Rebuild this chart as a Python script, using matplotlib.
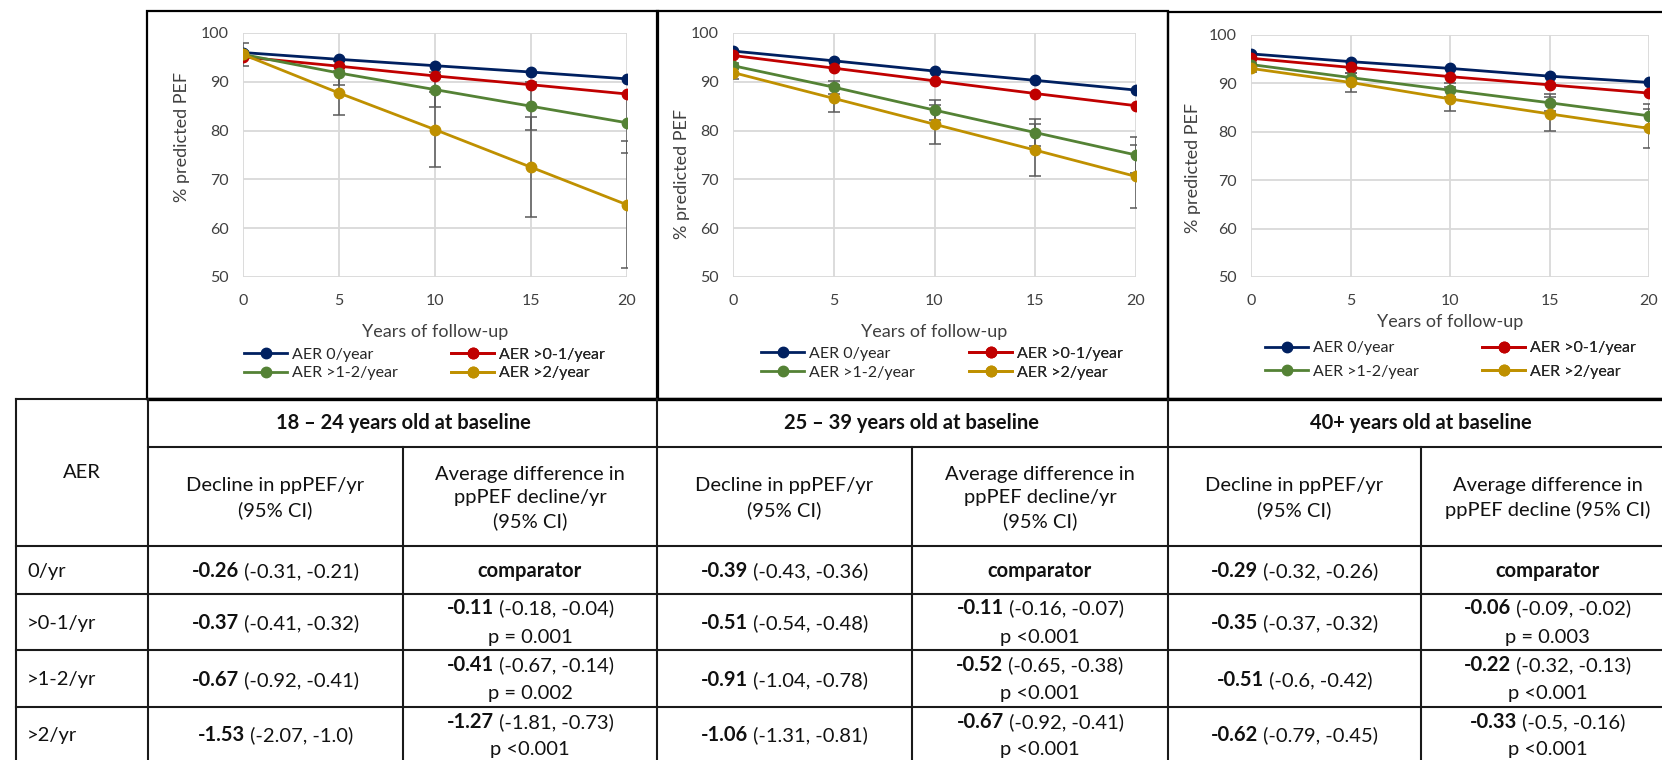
import matplotlib
matplotlib.use("Agg")
import matplotlib.pyplot as plt
from matplotlib.patches import Rectangle
from matplotlib.offsetbox import TextArea, HPacker, AnnotationBbox

plt.rcParams["font.family"] = ["Lato", "DejaVu Sans"]

# ---- chart data ----
years = [0, 5, 10, 15, 20]
series_labels = ["AER 0/year", "AER >0-1/year", "AER >1-2/year", "AER >2/year"]
series_colors = ["#002060", "#C00000", "#548235", "#BF9000"]

pef_18_24 = [
    [96.0, 94.6, 93.3, 92.0, 90.6],
    [95.1, 93.2, 91.2, 89.4, 87.5],
    [95.6, 91.8, 88.4, 85.0, 81.6],
    [95.6, 87.7, 80.2, 72.5, 64.8],
]
err_18_24 = [None, None, [0.8, 2.5, 3.6, 4.9, 6.1], [2.4, 4.6, 7.7, 10.3, 13.0]]

pef_25_39 = [
    [96.3, 94.3, 92.2, 90.3, 88.3],
    [95.4, 92.8, 90.2, 87.6, 85.1],
    [93.3, 88.9, 84.2, 79.6, 75.0],
    [91.9, 86.6, 81.3, 76.0, 70.6],
]
err_25_39 = [None, None, [0.6, 1.3, 2.1, 2.7, 3.6], [1.3, 2.7, 4.0, 5.3, 6.4]]

pef_40 = [
    [96.1, 94.5, 93.1, 91.5, 90.2],
    [95.2, 93.3, 91.4, 89.7, 88.0],
    [93.9, 91.2, 88.6, 86.0, 83.3],
    [93.1, 90.2, 86.8, 83.7, 80.7],
]
err_40 = [None, None, [0.4, 0.9, 1.4, 1.8, 2.4], [0.7, 1.9, 2.4, 3.5, 4.1]]

# ---- table data ----
aer_rows = ["0/yr", ">0-1/yr", ">1-2/yr", ">2/yr"]
groups = ["18 – 24 years old at baseline", "25 – 39 years old at baseline",
          "40+ years old at baseline"]
decline_est = [["-0.26", "-0.37", "-0.67", "-1.53"],
               ["-0.39", "-0.51", "-0.91", "-1.06"],
               ["-0.29", "-0.35", "-0.51", "-0.62"]]
decline_ci = [["(-0.31, -0.21)", "(-0.41, -0.32)", "(-0.92, -0.41)", "(-2.07, -1.0)"],
              ["(-0.43, -0.36)", "(-0.54, -0.48)", "(-1.04, -0.78)", "(-1.31, -0.81)"],
              ["(-0.32, -0.26)", "(-0.37, -0.32)", "(-0.6, -0.42)", "(-0.79, -0.45)"]]
diff_est = [[None, "-0.11", "-0.41", "-1.27"],
            [None, "-0.11", "-0.52", "-0.67"],
            [None, "-0.06", "-0.22", "-0.33"]]
diff_ci = [[None, "(-0.18, -0.04)", "(-0.67, -0.14)", "(-1.81, -0.73)"],
           [None, "(-0.16, -0.07)", "(-0.65, -0.38)", "(-0.92, -0.41)"],
           [None, "(-0.09, -0.02)", "(-0.32, -0.13)", "(-0.5, -0.16)"]]
diff_p = [[None, "p = 0.001", "p = 0.002", "p <0.001"],
          [None, "p <0.001", "p <0.001", "p <0.001"],
          [None, "p = 0.003", "p <0.001", "p <0.001"]]
sub_head_1 = "Decline in ppPEF/yr\n(95% CI)"
sub_head_2 = ["Average difference in\nppPEF decline/yr\n(95% CI)",
              "Average difference in\nppPEF decline/yr\n(95% CI)",
              "Average difference in\nppPEF decline (95% CI)"]

W, H = 1662, 760
fig = plt.figure(figsize=(W / 100, H / 100), dpi=100)

bg = fig.add_axes([0, 0, 1, 1], zorder=0)
bg.set_xlim(0, W)
bg.set_ylim(H, 0)
bg.axis("off")


def px_axes(l, t, r, b):
    return fig.add_axes([l / W, 1 - b / H, (r - l) / W, (b - t) / H], zorder=2)


panels = [
    # data, errors, plot box, ylabel x/y, xlabel y, legend cols x, legend y, row gap
    (pef_18_24, err_18_24, (243, 33, 627, 277), 182, 137, 332, (244, 451), 364, 0.25),
    (pef_25_39, err_25_39, (733, 33, 1136, 277), 682, 174, 332, (761, 969), 363, 0.3),
    (pef_40, err_40, (1251, 35, 1649, 277), 1193, 168, 322, (1265, 1482), 360, 0.6),
]

for data, errs, box, ylx, yly, xly, legx, legy, lsp in panels:
    l, t, r, b = box
    ax = px_axes(l, t, r, b)
    ax.set_facecolor("none")
    handles = []
    for vals, err, col, lab in zip(data, errs, series_colors, series_labels):
        if err is not None:
            ax.errorbar(years, vals, yerr=err, fmt="none", ecolor="#595959",
                        elinewidth=1.1, capsize=4, capthick=1.1, zorder=2)
        h, = ax.plot(years, vals, color=col, lw=2, marker="o", ms=7.5,
                     label=lab, zorder=3)
        handles.append(h)
    ax.set_xlim(0, 20)
    ax.set_ylim(50, 100)
    ax.set_xticks(years)
    ax.set_yticks(range(50, 101, 10))
    ax.grid(True, color="#d9d9d9", lw=1.3)
    ax.set_axisbelow(True)
    for s in ax.spines.values():
        s.set_visible(False)
    ax.tick_params(length=0, labelsize=11.5, colors="#404040")
    ax.tick_params(axis="x", pad=12)
    ax.tick_params(axis="y", pad=10)
    ax.set_xlabel("Years of follow-up", fontsize=13, color="#404040")
    ax.xaxis.label.set_va("center")
    ax.xaxis.set_label_coords(0.5, (b - xly) / (b - t))
    ax.set_ylabel("% predicted PEF", fontsize=13, color="#404040")
    ax.yaxis.label.set_va("center")
    ax.yaxis.set_label_coords((ylx - l) / (r - l), (b - yly) / (b - t))

    # two legend columns placed separately
    for k, cx in enumerate(legx):
        hs = [handles[k], handles[k + 2]]
        leg = ax.legend(hs, [h.get_label() for h in hs], loc="center left",
                        bbox_to_anchor=(cx / W, 1 - legy / H),
                        bbox_transform=fig.transFigure, frameon=False,
                        fontsize=11.5, handlelength=2.7, handletextpad=0.3,
                        borderpad=0, borderaxespad=0, labelspacing=lsp,
                        numpoints=1, labelcolor="#262626")
        ax.add_artist(leg)

# panel frames
lk = dict(fill=False, ec="black", lw=1.6, zorder=1)
bg.add_patch(Rectangle((147, 11), 511, 388, **lk))
bg.add_patch(Rectangle((657, 11), 511, 388, **lk))
bg.add_patch(Rectangle((1168, 12), 520, 387, **lk))

# ---- table ----
tl = dict(color="#1a1a1a", lw=1.5, zorder=1)
row_y = [399, 447, 546, 594, 650, 707]
bg.plot([16, W], [399, 399], **tl)
bg.plot([148, W], [399, 399], color="black", lw=2.4, zorder=1)
bg.plot([148, W], [447, 447], **tl)
for y in row_y[2:]:
    bg.plot([16, W], [y, y], **tl)
for x in [16, 148, 657, 1168]:
    bg.plot([x, x], [399, H], **tl)
for x in [403, 912, 1421]:
    bg.plot([x, x], [447, H], **tl)

fs = 14.5
tc = "#111111"
bg.text(82, 473, "AER", ha="center", va="center", fontsize=fs, color=tc)
for i, lab in enumerate(aer_rows):
    bg.text(27, [571, 623, 680, 735][i], lab, ha="left", va="center",
            fontsize=fs, color=tc)

group_x = [(148, 403, 657), (657, 912, 1168), (1168, 1421, 1674)]


def mixed(x, y, bold, rest):
    box = HPacker(children=[
        TextArea(bold, textprops=dict(fontsize=fs, fontweight="bold", color=tc)),
        TextArea(" " + rest, textprops=dict(fontsize=fs, color=tc))],
        pad=0, sep=0, align="baseline")
    ab = AnnotationBbox(box, (x, y), xycoords="data", frameon=False,
                        box_alignment=(0.5, 0.5), pad=0, zorder=3)
    bg.add_artist(ab)


single_y = [571, 623, 680, 735]
double_y = [None, (608, 637), (665, 694), (722, 750)]

for g in range(3):
    x0, xm, x1 = group_x[g]
    c1 = (x0 + xm) / 2
    c2 = (xm + x1) / 2
    bg.text(xm, 423, groups[g], ha="center", va="center", fontsize=fs,
            fontweight="bold", color=tc)
    bg.text(c1, 498, sub_head_1, ha="center", va="center", fontsize=fs,
            color=tc, linespacing=1.45)
    bg.text(c2, 498, sub_head_2[g], ha="center", va="center", fontsize=fs,
            color=tc, linespacing=1.45)
    for i in range(4):
        mixed(c1, single_y[i], decline_est[g][i], decline_ci[g][i])
        if diff_est[g][i] is None:
            bg.text(c2, single_y[i], "comparator", ha="center", va="center",
                    fontsize=fs, fontweight="bold", color=tc)
        else:
            y1, y2 = double_y[i]
            mixed(c2, y1, diff_est[g][i], diff_ci[g][i])
            bg.text(c2, y2, diff_p[g][i], ha="center", va="center",
                    fontsize=fs, color=tc)

fig.savefig("out.png", dpi=100)
